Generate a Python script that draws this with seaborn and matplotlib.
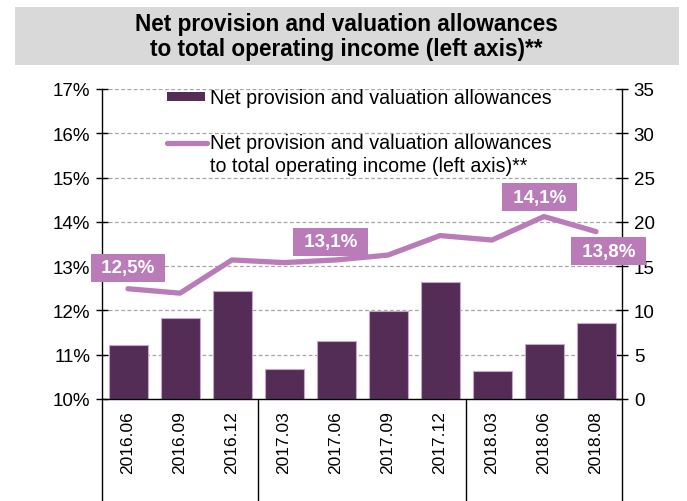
import numpy as np
import pandas as pd
import matplotlib
matplotlib.use('Agg')
import matplotlib.pyplot as plt
import seaborn as sns
from matplotlib.patches import Rectangle
from matplotlib.lines import Line2D

# --- data ---
periods = ['2016.06', '2016.09', '2016.12', '2017.03', '2017.06',
           '2017.09', '2017.12', '2018.03', '2018.06', '2018.08']
provisions = [6.1, 9.2, 12.2, 3.4, 6.6, 9.9, 13.2, 3.2, 6.2, 8.6]          # right axis
ratio_pct = [12.49, 12.39, 13.14, 13.08, 13.14, 13.25, 13.69, 13.59, 14.12, 13.78]  # left axis, %
labelled_idx = [0, 4, 8, 9]
year_breaks = [2.5, 6.5]

bar_label = 'Net provision and valuation allowances'
line_label = 'Net provision and valuation allowances\nto total operating income (left axis)**'
title = 'Net provision and valuation allowances\nto total operating income (left axis)**'

BAR_COL = '#532D56'
LINE_COL = '#B97CB9'
GRID_COL = '#A6A6A6'

df = pd.DataFrame({'period': periods, 'provisions': provisions, 'ratio': ratio_pct})
df['pos'] = np.arange(len(df))

sns.set_theme(style='white')
plt.rcParams['font.family'] = ['Liberation Sans', 'DejaVu Sans']
plt.rcParams['axes.edgecolor'] = 'black'

fig = plt.figure(figsize=(6.87, 5.02), dpi=100)
fig.patch.set_facecolor('white')
W, H = 687, 502

def fx(px):
    return px / W

def fy(py):
    return 1 - py / H

# title box
fig.patches.append(Rectangle((fx(15), fy(66)), fx(664), 58 / H, transform=fig.transFigure,
                             facecolor='#D9D9D9', edgecolor='none', zorder=0))
fig.text(fx(346), fy(37), title, ha='center', va='center', fontsize=16.3,
         fontweight='bold', linespacing=1.15, color='black')

ax = fig.add_axes([fx(102), fy(400), fx(520), 310 / H])
ax2 = ax.twinx()

# bars on right axis
sns.barplot(data=df, x='pos', y='provisions', ax=ax2, color=BAR_COL, width=0.75,
            edgecolor='#C8A6CB', linewidth=0.8, saturation=1, native_scale=True)
ax2.set_ylim(0, 35)
ax2.set_yticks(np.arange(0, 36, 5))
ax2.yaxis.grid(True, linestyle=(0, (3, 2)), color=GRID_COL, linewidth=0.9)
ax2.set_axisbelow(True)
ax2.set_ylabel('')
ax2.tick_params(axis='y', direction='inout', length=9, width=1, colors='black',
                labelsize=13.5, pad=4)
for s in ['top', 'left', 'bottom']:
    ax2.spines[s].set_visible(False)
ax2.spines['right'].set_linewidth(1)

# line on left axis
ax.set_zorder(ax2.get_zorder() + 1)
ax.patch.set_visible(False)
sns.lineplot(data=df, x='pos', y='ratio', ax=ax, color=LINE_COL, linewidth=3.8,
             solid_capstyle='round', solid_joinstyle='round')
ax.set_ylim(10, 17)
ax.set_yticks(np.arange(10, 18, 1))
ax.set_yticklabels([f'{v}%' for v in range(10, 18)])
ax.tick_params(axis='y', direction='inout', length=9, width=1, colors='black',
               labelsize=13.5, pad=4)
ax.set_xlim(-0.5, len(periods) - 0.5)
ax.set_xticks(df['pos'])
ax.set_xticklabels(periods, rotation=90)
ax.set_xticks(np.arange(-0.5, len(periods)), minor=True)
ax.tick_params(axis='x', which='major', length=0, pad=8, labelsize=12.5, colors='black')
ax.tick_params(axis='x', which='minor', length=54, width=1, direction='out', colors='black')
ax.set_xlabel('')
ax.set_ylabel('')
for s in ['top', 'right']:
    ax.spines[s].set_visible(False)
ax.spines['left'].set_linewidth(1)
ax.spines['bottom'].set_linewidth(1)

# long separators between years and at the ends
for xb in [-0.5] + year_breaks + [len(periods) - 0.5]:
    ax.axvline(xb, ymin=-102 / 310, ymax=0, color='black', lw=1, clip_on=False)

# value labels
offsets = {0: (0, 15), 4: (-4, 13), 8: (-3, 14), 9: (9, -14)}
for i in labelled_idx:
    txt = f"{df['ratio'][i]:.1f}".replace('.', ',') + '%'
    dx, dy = offsets[i]
    ax.annotate(f' {txt} ', xy=(df['pos'][i], df['ratio'][i]), xytext=(dx, dy),
                textcoords='offset points', ha='center', va='center', color='white',
                fontsize=13.5, fontweight='bold', zorder=5, annotation_clip=False,
                bbox=dict(boxstyle='square,pad=0.3', facecolor=LINE_COL, edgecolor='none'))

# legend drawn by hand so the line key sits on the first label line
ax.add_patch(Rectangle(((167 - 102) / 520, (400 - 102) / 310), 38 / 520, 9 / 310,
                       transform=ax.transAxes, facecolor=BAR_COL, edgecolor='none',
                       clip_on=False))
ax.text((210 - 102) / 520, (400 - 99) / 310, bar_label, transform=ax.transAxes,
        ha='left', va='center', fontsize=14.1, color='black')
ax.add_line(Line2D([(167 - 102) / 520, (207 - 102) / 520], [(400 - 144) / 310] * 2,
                   transform=ax.transAxes, color=LINE_COL, linewidth=3.8,
                   solid_capstyle='round', clip_on=False))
ax.text((210 - 102) / 520, (400 - 155) / 310, line_label, transform=ax.transAxes,
        ha='left', va='center', fontsize=14.1, color='black', linespacing=1.28)

fig.savefig('out.png', dpi=100)
